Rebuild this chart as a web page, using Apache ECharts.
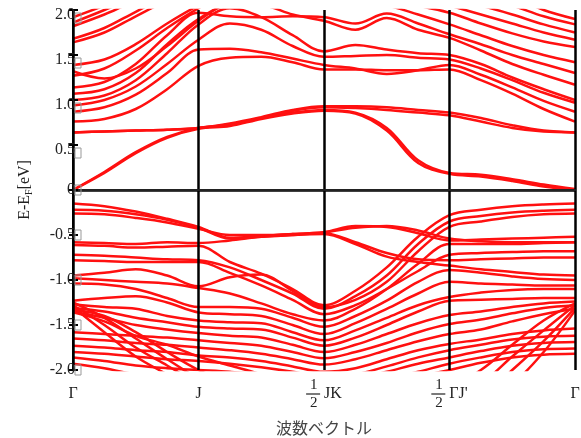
<!DOCTYPE html>
<html>
<head>
<meta charset="utf-8">
<script src="https://cdn.jsdelivr.net/npm/echarts@6/dist/echarts.min.js"></script>
<style>
html, body { margin: 0; padding: 0; background: #fff; }
#main { width: 581px; height: 438px; }
</style>
</head>
<body>
<div id="main"></div>
<script>
// k path Γ - J - 1/2JK - 1/2ΓJ' - Γ, one sample every quarter segment
const kPoints = [0, 0.25, 0.5, 0.75, 1, 1.25, 1.5, 1.75, 2, 2.25, 2.5, 2.75, 3, 3.25, 3.5, 3.75, 4];
const kLabels = ['Γ', 'J', 'JK', "ΓJ'", 'Γ'];
const halfPoint = [false, false, true, true, false];

// conduction bands (eV)
const conductionBands = [
  [0.00, 0.20, 0.42, 0.59, 0.69, 0.72, 0.80, 0.86, 0.89, 0.86, 0.69, 0.33, 0.19, 0.17, 0.12, 0.06, 0.01],
  [0.00, 0.19, 0.41, 0.58, 0.68, 0.71, 0.79, 0.85, 0.88, 0.85, 0.66, 0.30, 0.18, 0.15, 0.10, 0.04, 0.00],
  [0.64, 0.65, 0.66, 0.67, 0.69, 0.74, 0.81, 0.89, 0.93, 0.93, 0.92, 0.89, 0.86, 0.80, 0.72, 0.66, 0.64],
  [0.64, 0.65, 0.66, 0.67, 0.69, 0.73, 0.80, 0.88, 0.92, 0.91, 0.89, 0.86, 0.83, 0.76, 0.69, 0.65, 0.64],
  [0.76, 0.79, 0.90, 1.12, 1.38, 1.47, 1.48, 1.42, 1.34, 1.34, 1.33, 1.33, 1.34, 1.22, 1.07, 0.90, 0.76],
  [0.87, 0.92, 1.06, 1.30, 1.56, 1.57, 1.53, 1.46, 1.39, 1.35, 1.29, 1.33, 1.39, 1.28, 1.14, 0.99, 0.87],
  [0.94, 1.00, 1.15, 1.40, 1.67, 1.85, 1.78, 1.60, 1.48, 1.49, 1.50, 1.47, 1.45, 1.35, 1.22, 1.08, 0.97],
  [1.00, 1.05, 1.22, 1.52, 1.84, 2.02, 1.92, 1.72, 1.54, 1.61, 1.56, 1.52, 1.50, 1.40, 1.25, 1.12, 1.00],
  [1.07, 1.12, 1.30, 1.62, 1.90, 2.05, 2.05, 1.95, 1.88, 1.78, 1.91, 1.78, 1.69, 1.55, 1.40, 1.28, 1.17],
  [1.14, 1.20, 1.40, 1.72, 1.97, 1.93, 1.92, 1.93, 1.92, 1.85, 1.96, 1.85, 1.73, 1.62, 1.50, 1.40, 1.30],
  [1.27, 1.35, 1.55, 1.80, 2.02, 2.20, 2.20, 2.15, 2.10, 2.08, 2.05, 1.95, 1.84, 1.72, 1.60, 1.50, 1.42],
  [1.32, 1.24, 1.35, 1.60, 1.88, 2.10, 2.20, 2.20, 2.20, 2.20, 2.15, 2.05, 1.97, 1.85, 1.74, 1.65, 1.59],
  [1.39, 1.45, 1.62, 1.85, 2.05, 2.20, 2.20, 2.20, 2.20, 2.20, 2.20, 2.15, 2.05, 1.95, 1.85, 1.75, 1.67],
  [1.64, 1.75, 1.93, 2.10, 2.20, 2.20, 2.20, 2.20, 2.20, 2.20, 2.20, 2.20, 2.15, 2.05, 1.95, 1.84, 1.75],
  [1.68, 1.80, 1.98, 2.15, 2.20, 2.20, 2.20, 2.20, 2.20, 2.20, 2.20, 2.20, 2.20, 2.15, 2.05, 1.93, 1.84],
  [1.82, 1.95, 2.10, 2.20, 2.20, 2.20, 2.20, 2.20, 2.20, 2.20, 2.20, 2.20, 2.20, 2.20, 2.15, 2.00, 1.90],
  [1.86, 2.00, 2.15, 2.30, 2.30, 2.30, 2.30, 2.30, 2.30, 2.30, 2.30, 2.30, 2.30, 2.30, 2.30, 2.30, 2.30],
  [1.92, 2.05, 2.20, 2.30, 2.30, 2.30, 2.30, 2.30, 2.30, 2.30, 2.30, 2.30, 2.30, 2.30, 2.30, 2.30, 2.30]
];

// valence bands (eV)
const valenceBands = [
  [-0.15, -0.18, -0.24, -0.32, -0.41, -0.53, -0.51, -0.49, -0.47, -0.40, -0.41, -0.48, -0.56, -0.55, -0.54, -0.53, -0.52],
  [-0.22, -0.23, -0.27, -0.33, -0.42, -0.54, -0.52, -0.50, -0.48, -0.58, -0.70, -0.77, -0.78, -0.77, -0.76, -0.75, -0.75],
  [-0.26, -0.27, -0.31, -0.36, -0.43, -0.50, -0.50, -0.49, -0.47, -0.42, -0.40, -0.45, -0.54, -0.57, -0.58, -0.58, -0.58],
  [-0.58, -0.59, -0.60, -0.58, -0.59, -0.56, -0.52, -0.50, -0.49, -0.60, -0.74, -0.80, -0.84, -0.88, -0.91, -0.94, -0.95],
  [-0.61, -0.62, -0.64, -0.63, -0.62, -0.80, -0.93, -1.10, -1.28, -1.12, -0.86, -0.52, -0.28, -0.22, -0.18, -0.16, -0.15],
  [-0.72, -0.73, -0.75, -0.77, -0.78, -0.86, -1.00, -1.15, -1.32, -1.18, -0.95, -0.60, -0.35, -0.29, -0.25, -0.23, -0.22],
  [-0.78, -0.79, -0.80, -0.80, -0.80, -0.92, -1.06, -1.22, -1.38, -1.28, -1.10, -0.90, -0.72, -0.70, -0.69, -0.68, -0.68],
  [-0.95, -0.92, -0.88, -0.95, -1.07, -0.97, -0.94, -1.12, -1.30, -1.22, -1.02, -0.68, -0.41, -0.35, -0.30, -0.27, -0.26],
  [-0.98, -1.00, -1.02, -1.04, -1.09, -1.15, -1.26, -1.38, -1.45, -1.32, -1.10, -0.82, -0.60, -0.60, -0.60, -0.59, -0.58],
  [-1.04, -1.05, -1.10, -1.20, -1.30, -1.30, -1.32, -1.42, -1.52, -1.40, -1.23, -1.02, -0.89, -0.92, -0.96, -0.99, -1.00],
  [-1.23, -1.20, -1.18, -1.25, -1.36, -1.38, -1.40, -1.50, -1.60, -1.48, -1.32, -1.15, -1.02, -1.04, -1.05, -1.06, -1.06],
  [-1.27, -1.30, -1.32, -1.40, -1.45, -1.47, -1.48, -1.58, -1.67, -1.56, -1.42, -1.28, -1.19, -1.14, -1.11, -1.10, -1.10],
  [-1.31, -1.35, -1.42, -1.47, -1.52, -1.54, -1.55, -1.64, -1.73, -1.64, -1.50, -1.35, -1.23, -1.22, -1.21, -1.20, -1.20],
  [-1.35, -1.42, -1.50, -1.55, -1.59, -1.62, -1.64, -1.72, -1.80, -1.72, -1.60, -1.48, -1.39, -1.35, -1.30, -1.26, -1.24],
  [-1.58, -1.60, -1.62, -1.64, -1.67, -1.70, -1.73, -1.80, -1.87, -1.80, -1.70, -1.58, -1.49, -1.44, -1.37, -1.31, -1.28],
  [-1.65, -1.67, -1.70, -1.72, -1.75, -1.78, -1.82, -1.88, -1.94, -1.88, -1.78, -1.68, -1.60, -1.55, -1.46, -1.38, -1.32],
  [-1.73, -1.75, -1.78, -1.80, -1.84, -1.86, -1.90, -1.96, -2.02, -1.98, -1.88, -1.78, -1.71, -1.66, -1.60, -1.56, -1.54],
  [-1.80, -1.82, -1.85, -1.88, -1.90, -1.93, -1.97, -2.02, -2.08, -2.05, -1.96, -1.86, -1.78, -1.72, -1.66, -1.63, -1.62],
  [-1.86, -1.90, -1.95, -1.98, -2.00, -2.02, -2.05, -2.10, -2.15, -2.10, -2.02, -1.93, -1.86, -1.79, -1.73, -1.70, -1.69],
  [-1.93, -1.98, -2.05, -2.10, -2.15, -2.15, -2.15, -2.20, -2.20, -2.18, -2.10, -2.02, -1.93, -1.86, -1.80, -1.77, -1.76],
  [-2.30, -2.30, -2.30, -2.30, -2.30, -2.30, -2.30, -2.30, -2.30, -2.30, -2.20, -2.08, -2.00, -1.92, -1.86, -1.83, -1.82],
  [-1.25, -1.42, -1.65, -1.88, -2.10, -2.30, -2.30, -2.30, -2.30, -2.30, -2.30, -2.30, -2.30, -2.30, -2.30, -2.30, -2.30],
  [-1.28, -1.50, -1.75, -1.95, -2.15, -2.30, -2.30, -2.30, -2.30, -2.30, -2.30, -2.30, -2.30, -2.30, -2.30, -2.30, -2.30],
  [-1.30, -1.58, -1.85, -2.05, -2.25, -2.30, -2.30, -2.30, -2.30, -2.30, -2.30, -2.30, -2.30, -2.30, -2.30, -2.30, -2.30],
  [-1.33, -1.40, -1.58, -1.80, -2.00, -2.15, -2.30, -2.30, -2.30, -2.30, -2.30, -2.30, -2.30, -2.30, -2.30, -2.30, -2.30],
  [-1.36, -1.46, -1.62, -1.72, -1.85, -1.95, -2.05, -2.20, -2.30, -2.30, -2.30, -2.30, -2.30, -2.30, -2.30, -2.30, -2.30],
  [-2.30, -2.30, -2.30, -2.30, -2.30, -2.30, -2.30, -2.30, -2.30, -2.30, -2.30, -2.30, -2.20, -2.00, -1.72, -1.45, -1.26],
  [-2.30, -2.30, -2.30, -2.30, -2.30, -2.30, -2.30, -2.30, -2.30, -2.30, -2.30, -2.30, -2.30, -2.15, -1.85, -1.56, -1.28],
  [-2.30, -2.30, -2.30, -2.30, -2.30, -2.30, -2.30, -2.30, -2.30, -2.30, -2.30, -2.30, -2.30, -2.30, -2.00, -1.68, -1.31],
  [-2.30, -2.30, -2.30, -2.30, -2.30, -2.30, -2.30, -2.30, -2.30, -2.30, -2.30, -2.30, -2.30, -2.30, -2.15, -1.80, -1.34]
];

const serif = 'Liberation Serif';
const chart = echarts.init(document.getElementById('main'));

const bandSeries = conductionBands.concat(valenceBands).map(function (band) {
  return {
    type: 'line',
    data: kPoints.map(function (k, i) { return [k, band[i]]; }),
    smooth: 0.35,
    showSymbol: false,
    silent: true,
    lineStyle: { color: '#ff1010', width: 2.5 },
    z: 2
  };
});

// horizontal line at the Fermi level
bandSeries.push({
  type: 'line',
  data: [],
  silent: true,
  z: 10,
  markLine: {
    silent: true,
    symbol: 'none',
    label: { show: false },
    lineStyle: { color: '#000', width: 2.5, type: 'solid' },
    data: [{ yAxis: 0 }]
  }
});

chart.setOption({
  animation: false,
  grid: { left: 73, right: 6, top: 10, bottom: 68, outerBoundsMode: 'none' },
  xAxis: [{
    type: 'value',
    min: 0,
    max: 4,
    interval: 1,
    z: 10,
    name: '波数ベクトル',
    nameLocation: 'middle',
    nameGap: 50,
    nameTextStyle: { fontFamily: 'Noto Sans CJK JP', fontSize: 16, color: '#444' },
    axisLine: { lineStyle: { color: '#000', width: 2 } },
    axisTick: { show: false },
    splitLine: { show: true, lineStyle: { color: '#000', width: 2.5 } },
    axisLabel: {
      margin: 24,
      verticalAlign: 'middle',
      formatter: function (v) {
        const i = Math.round(v);
        if (halfPoint[i]) return '{n|1}\n{bar|}{tt|' + kLabels[i] + '}\n{n|2}';
        return '{t|' + kLabels[i] + '}';
      },
      rich: {
        t: { fontFamily: serif, fontSize: 16, color: '#222', lineHeight: 9 },
        tt: { fontFamily: serif, fontSize: 16, color: '#222', lineHeight: 9, align: 'left', padding: [0, 0, 0, 4] },
        n: { fontFamily: serif, fontSize: 15, color: '#222', lineHeight: 8.5, align: 'left', padding: [0, 0, 0, 4] },
        bar: { width: 14, height: 1.2, backgroundColor: '#222', lineHeight: 8.5, align: 'left' }
      }
    }
  }, {
    type: 'value',
    position: 'top',
    min: 0,
    max: 4,
    z: 10,
    axisLine: { lineStyle: { color: '#222', width: 2 } },
    axisTick: { show: false },
    axisLabel: { show: false },
    splitLine: { show: false }
  }],
  yAxis: [{
    type: 'value',
    min: -2,
    max: 2,
    interval: 0.5,
    z: 10,
    name: '{a|E-E}{s|F}{a|[eV]}',
    nameLocation: 'middle',
    nameGap: 39,
    nameTextStyle: {
      rich: {
        a: { fontFamily: serif, fontSize: 16, color: '#222', lineHeight: 18 },
        s: { fontFamily: serif, fontSize: 10, color: '#222', lineHeight: 10, verticalAlign: 'bottom' }
      }
    },
    axisLine: { lineStyle: { color: '#000', width: 2 } },
    axisTick: { inside: true, length: 5, lineStyle: { color: '#000', width: 2 } },
    splitLine: { show: false },
    axisLabel: {
      margin: -8,
      formatter: function (v) {
        const s = v === 0 ? '0' : v.toFixed(1);
        if (v > 0) return '{sp|}{p|' + s + '}{pb|}';
        return '{v|' + s + '}{b|}';
      },
      rich: {
        v: { fontFamily: serif, fontSize: 16, color: '#222' },
        b: { width: 6, height: 10, borderColor: '#999', borderWidth: 1 },
        sp: { width: 1, height: 26, lineHeight: 26 },
        p: { fontFamily: serif, fontSize: 16, color: '#222', verticalAlign: 'bottom' },
        pb: { width: 6, height: 10, borderColor: '#999', borderWidth: 1, verticalAlign: 'bottom' }
      }
    }
  }, {
    type: 'value',
    position: 'right',
    min: -2,
    max: 2,
    interval: 0.5,
    z: 10,
    axisLine: { lineStyle: { color: '#000', width: 2 } },
    axisTick: { inside: true, length: 4, lineStyle: { color: '#000', width: 2 } },
    axisLabel: { show: false },
    splitLine: { show: false }
  }],
  series: bandSeries
});
</script>
</body>
</html>
